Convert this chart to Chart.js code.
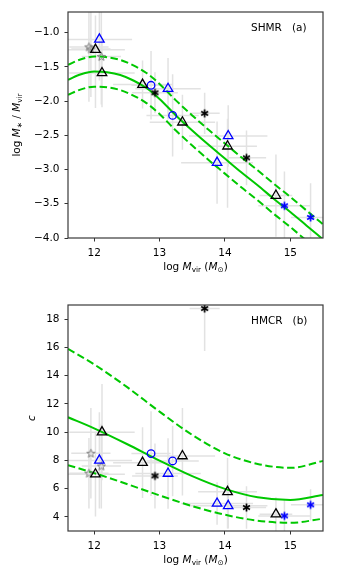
<!DOCTYPE html>
<html>
<head>
<meta charset="utf-8">
<script src="https://cdn.jsdelivr.net/npm/chart.js@4.4.0/dist/chart.umd.min.js"></script>
<style>
  body { margin: 0; background: #fff; }
  canvas { display: block; }
</style>
</head>
<body>
<canvas id="shmr" width="340" height="289"></canvas>
<canvas id="hmcr" width="340" height="289"></canvas>
<script>
// ---- data ----
const massTicks = [12, 13, 14, 15];
const shmrTicks = [-4.0, -3.5, -3.0, -2.5, -2.0, -1.5, -1.0];
const concTicks = [4, 6, 8, 10, 12, 14, 16, 18];

// black open triangles
const blackTriMass = [12.02, 12.12, 12.74, 13.35, 14.04, 14.78];
const blackTriShmr = [-1.25, -1.59, -1.76, -2.31, -2.66, -3.38];
const blackTriConc = [7.02, 10.0, 7.84, 8.31, 5.77, 4.19];
const blackTriMassErr = [0.45, 0.5, 0.45, 0.5, 0.45, 0.25];
const blackTriShmrErr = [[0.85, 0.5], [0.5, 0.5], [0.35, 0.35], [0.4, 0.4], [0.9, 0.4], [0.6, 0.6]];
const blackTriConcErr = [[3.0, 3.0], [3.4, 3.4], [2.5, 2.5], [2.8, 3.4], [2.6, 2.4], [1.2, 1.2]];

// blue open triangles
const blueTriMass = [12.08, 13.13, 13.88, 14.05];
const blueTriShmr = [-1.10, -1.82, -2.90, -2.51];
const blueTriConc = [8.0, 7.07, 4.95, 4.78];
const blueTriMassErr = [0.5, 0.5, 0.55, 0.6];
const blueTriShmrErr = [[0.6, 0.6], [0.45, 0.45], [0.6, 0.6], [0.45, 0.45]];
const blueTriConcErr = [[3.4, 3.4], [2.5, 2.5], [1.5, 1.5], [1.6, 1.6]];

// blue open circles
const blueCircMass = [12.87, 13.20];
const blueCircShmr = [-1.77, -2.21];
const blueCircConc = [8.48, 7.96];
const blueCircMassErr = [0.3, 0.4];
const blueCircShmrErr = [[0.5, 0.5], [0.6, 0.6]];
const blueCircConcErr = [[3.0, 3.0], [2.5, 2.5]];

// black asterisks
const blackStarMass = [12.93, 13.69, 14.33];
const blackStarShmr = [-1.88, -2.18, -2.83];
const blackStarConc = [6.9, 18.75, 4.66];
const blackStarMassErr = [0.35, 0.23, 0.3];
const blackStarShmrErr = [[0.3, 0.3], [0.3, 0.3], [0.4, 0.4]];
const blackStarConcErr = [[2.3, 2.3], [3.0, 0.3], [1.5, 1.5]];

// blue asterisks
const blueStarMass = [14.91, 15.31];
const blueStarShmr = [-3.53, -3.70];
const blueStarConc = [4.07, 4.85];
const blueStarMassErr = [0.4, 0.3];
const blueStarShmrErr = [[0.5, 0.5], [0.5, 0.5]];
const blueStarConcErr = [[1.2, 1.2], [1.1, 1.1]];

// grey open stars
const greyStarMass = [11.92, 11.95, 12.11];
const greyStarShmr = [-1.21, -1.24, -1.35];
const greyStarConc = [7.09, 8.50, 7.60];
const greyStarMassErr = [0.3, 0.3, 0.3];
const greyStarShmrErr = [[0.8, 0.8], [0.7, 0.7], [0.7, 0.7]];
const greyStarConcErr = [[2.5, 2.5], [3.2, 3.2], [3.0, 3.0]];

// model relations (median and scatter band)
const shmrCurveMass = [11.6, 11.8, 12.0, 12.2, 12.4, 12.6, 12.8, 13.0, 13.25, 13.5, 13.75, 14.0, 14.25, 14.5, 14.75, 15.0, 15.25, 15.5];
const shmrMedian = [-1.69, -1.61, -1.57, -1.58, -1.62, -1.70, -1.81, -1.97, -2.21, -2.43, -2.64, -2.84, -3.04, -3.23, -3.43, -3.62, -3.82, -4.02];
const shmrUpper  = [-1.47, -1.39, -1.35, -1.36, -1.40, -1.48, -1.59, -1.75, -1.99, -2.21, -2.42, -2.62, -2.82, -3.01, -3.21, -3.40, -3.60, -3.80];
const shmrLower  = [-1.91, -1.83, -1.79, -1.80, -1.84, -1.92, -2.03, -2.19, -2.43, -2.65, -2.86, -3.06, -3.26, -3.45, -3.65, -3.84, -4.04, -4.24];

const concCurveMass = [11.6, 12.0, 12.5, 13.0, 13.5, 14.0, 14.5, 15.0, 15.5];
const concMedian = [11.05, 10.27, 9.16, 7.98, 6.88, 5.98, 5.39, 5.20, 5.55];
const concUpper  = [15.9, 14.8, 13.2, 11.45, 9.8, 8.5, 7.75, 7.47, 7.96];
const concLower  = [7.66, 7.1, 6.33, 5.52, 4.76, 4.15, 3.73, 3.58, 3.87];

// ---- styling ----
const GREEN = '#00c800';
const FONT = '"DejaVu Sans"';
const FS = 10.5;

function asterisk(color) {
  const c = document.createElement('canvas');
  c.width = 11; c.height = 11;
  const g = c.getContext('2d');
  g.strokeStyle = color;
  g.lineWidth = 1.7;
  for (const a of [90, 30, 150]) {
    const r = a * Math.PI / 180;
    g.beginPath();
    g.moveTo(5.5 + 4 * Math.cos(r), 5.5 - 4 * Math.sin(r));
    g.lineTo(5.5 - 4 * Math.cos(r), 5.5 + 4 * Math.sin(r));
    g.stroke();
  }
  return c;
}

function openStar(color) {
  const c = document.createElement('canvas');
  c.width = 11; c.height = 11;
  const g = c.getContext('2d');
  g.strokeStyle = color;
  g.lineWidth = 1;
  g.beginPath();
  for (let i = 0; i < 10; i++) {
    const r = i % 2 ? 1.8 : 4.4;
    const a = -Math.PI / 2 + i * Math.PI / 5;
    const px = 5.5 + r * Math.cos(a), py = 5.8 + r * Math.sin(a);
    if (i === 0) g.moveTo(px, py); else g.lineTo(px, py);
  }
  g.closePath();
  g.stroke();
  return c;
}

const markers = {
  blackTri: { pointStyle: 'triangle', pointRadius: 5.5, borderColor: '#000', borderWidth: 1.3 },
  blueTri: { pointStyle: 'triangle', pointRadius: 5.5, borderColor: '#0000ff', borderWidth: 1.3 },
  blueCirc: { pointStyle: 'circle', pointRadius: 3.8, borderColor: '#0000ff', borderWidth: 1.3 },
  blackStar: { pointStyle: asterisk('#000'), pointRadius: 5 },
  blueStar: { pointStyle: asterisk('#0000ff'), pointRadius: 5 },
  greyStar: { pointStyle: openStar('#808080'), pointRadius: 5 }
};

function pts(xs, ys) { return xs.map((x, i) => ({ x: x, y: ys[i] })); }

function scatterSet(xs, ys, m) {
  return Object.assign({
    type: 'scatter',
    data: pts(xs, ys),
    backgroundColor: 'rgba(0,0,0,0)',
    pointHoverRadius: m.pointRadius
  }, m);
}

function curveSet(xs, ys, dashed) {
  return {
    type: 'scatter',
    showLine: true,
    data: pts(xs, ys),
    borderColor: GREEN,
    borderWidth: 2,
    borderDash: dashed ? [7.5, 3.5] : [],
    pointRadius: 0,
    cubicInterpolationMode: 'monotone',
    fill: false
  };
}

function drawRich(ctx, parts, x, y) {
  const fontOf = s => s === 'i' ? `italic ${FS}px ${FONT}` : s === 's' ? `${FS * 0.7}px ${FONT}` : `${FS}px ${FONT}`;
  let w = 0;
  for (const [t, s] of parts) { ctx.font = fontOf(s); w += ctx.measureText(t).width; }
  let cx = x - w / 2;
  ctx.textBaseline = 'middle';
  ctx.textAlign = 'left';
  for (const [t, s] of parts) {
    ctx.font = fontOf(s);
    ctx.fillText(t, cx, y + (s === 's' ? 2.6 : 0));
    cx += ctx.measureText(t).width;
  }
}

const xLabelParts = [['log ', 'n'], ['M', 'i'], ['vir', 's'], [' (', 'n'], ['M', 'i'], ['\u2299', 's'], [')', 'n']];

function decor(groups, yLabelParts, yLabelX, note) {
  return {
    id: 'decor',
    beforeDatasetsDraw(chart) {
      const { ctx, chartArea: a, scales: { x, y } } = chart;
      ctx.save();
      ctx.beginPath();
      ctx.rect(a.left, a.top, a.right - a.left, a.bottom - a.top);
      ctx.clip();
      ctx.strokeStyle = '#e2e2e2';
      ctx.lineWidth = 1.5;
      for (const g of groups) {
        g.xs.forEach((m, i) => {
          const v = g.ys[i];
          const px = x.getPixelForValue(m), py = y.getPixelForValue(v);
          ctx.beginPath();
          ctx.moveTo(x.getPixelForValue(m - g.xe[i]), py);
          ctx.lineTo(x.getPixelForValue(m + g.xe[i]), py);
          ctx.moveTo(px, y.getPixelForValue(v - g.ye[i][0]));
          ctx.lineTo(px, y.getPixelForValue(v + g.ye[i][1]));
          ctx.stroke();
        });
      }
      ctx.restore();
    },
    afterDraw(chart) {
      const { ctx, chartArea: a } = chart;
      ctx.save();
      ctx.strokeStyle = '#3a3a3a';
      ctx.lineWidth = 1.2;
      ctx.strokeRect(a.left, a.top, a.right - a.left, a.bottom - a.top);
      ctx.fillStyle = '#000';
      drawRich(ctx, xLabelParts, (a.left + a.right) / 2, a.bottom + 29);
      ctx.font = `${FS}px ${FONT}`;
      ctx.textAlign = 'left';
      ctx.textBaseline = 'middle';
      ctx.fillText(note, a.right - 72, a.top + 16.5);
      ctx.translate(yLabelX, (a.top + a.bottom) / 2);
      ctx.rotate(-Math.PI / 2);
      drawRich(ctx, yLabelParts, 0, 0);
      ctx.restore();
    }
  };
}

function axisOpts(min, max, tickVals, fmt, fit) {
  return {
    type: 'linear',
    min: min,
    max: max,
    afterBuildTicks: s => { s.ticks = tickVals.map(v => ({ value: v })); },
    afterFit: fit,
    ticks: { callback: fmt, color: '#000', font: { family: 'DejaVu Sans', size: FS }, padding: 5, autoSkip: false, maxRotation: 0 },
    grid: { display: true, drawOnChartArea: false, drawTicks: true, tickLength: 3.5, color: '#333', lineWidth: 1 },
    border: { display: false }
  };
}

function panel(id, datasets, yMin, yMax, yTicks, yFmt, topPad, xAxisH, plugin) {
  return new Chart(document.getElementById(id), {
    type: 'scatter',
    data: { datasets: datasets },
    options: {
      responsive: false,
      animation: false,
      events: [],
      layout: { padding: { top: topPad, right: 17, left: 0, bottom: 0 } },
      plugins: { legend: { display: false }, tooltip: { enabled: false } },
      scales: {
        x: axisOpts(11.6, 15.5, massTicks, v => String(v), s => { s.height = xAxisH; }),
        y: axisOpts(yMin, yMax, yTicks, yFmt, s => { s.width = 68; })
      }
    },
    plugins: [plugin]
  });
}

// panel (a): stellar-to-halo mass ratio
panel('shmr', [
  scatterSet(blackTriMass, blackTriShmr, markers.blackTri),
  scatterSet(blueTriMass, blueTriShmr, markers.blueTri),
  scatterSet(blueCircMass, blueCircShmr, markers.blueCirc),
  scatterSet(blackStarMass, blackStarShmr, markers.blackStar),
  scatterSet(blueStarMass, blueStarShmr, markers.blueStar),
  scatterSet(greyStarMass, greyStarShmr, markers.greyStar),
  curveSet(shmrCurveMass, shmrMedian, false),
  curveSet(shmrCurveMass, shmrUpper, true),
  curveSet(shmrCurveMass, shmrLower, true)
], -4.0, -0.7, shmrTicks,
  v => (v < 0 ? '\u2212' : '') + Math.abs(v).toFixed(1),
  12, 51,
  decor([
    { xs: blackTriMass, ys: blackTriShmr, xe: blackTriMassErr, ye: blackTriShmrErr },
    { xs: blueTriMass, ys: blueTriShmr, xe: blueTriMassErr, ye: blueTriShmrErr },
    { xs: blueCircMass, ys: blueCircShmr, xe: blueCircMassErr, ye: blueCircShmrErr },
    { xs: blackStarMass, ys: blackStarShmr, xe: blackStarMassErr, ye: blackStarShmrErr },
    { xs: blueStarMass, ys: blueStarShmr, xe: blueStarMassErr, ye: blueStarShmrErr },
    { xs: greyStarMass, ys: greyStarShmr, xe: greyStarMassErr, ye: greyStarShmrErr }
  ], [['log ', 'n'], ['M', 'i'], ['\u2217', 's'], [' / ', 'n'], ['M', 'i'], ['vir', 's']], 17, 'SHMR   (a)')
);

// panel (b): halo mass-concentration relation
panel('hmcr', [
  scatterSet(blackTriMass, blackTriConc, markers.blackTri),
  scatterSet(blueTriMass, blueTriConc, markers.blueTri),
  scatterSet(blueCircMass, blueCircConc, markers.blueCirc),
  scatterSet(blackStarMass, blackStarConc, markers.blackStar),
  scatterSet(blueStarMass, blueStarConc, markers.blueStar),
  scatterSet(greyStarMass, greyStarConc, markers.greyStar),
  curveSet(concCurveMass, concMedian, false),
  curveSet(concCurveMass, concUpper, true),
  curveSet(concCurveMass, concLower, true)
], 3, 19, concTicks,
  v => String(v),
  16, 47,
  decor([
    { xs: blackTriMass, ys: blackTriConc, xe: blackTriMassErr, ye: blackTriConcErr },
    { xs: blueTriMass, ys: blueTriConc, xe: blueTriMassErr, ye: blueTriConcErr },
    { xs: blueCircMass, ys: blueCircConc, xe: blueCircMassErr, ye: blueCircConcErr },
    { xs: blackStarMass, ys: blackStarConc, xe: blackStarMassErr, ye: blackStarConcErr },
    { xs: blueStarMass, ys: blueStarConc, xe: blueStarMassErr, ye: blueStarConcErr },
    { xs: greyStarMass, ys: greyStarConc, xe: greyStarMassErr, ye: greyStarConcErr }
  ], [['c', 'i']], 32, 'HMCR   (b)')
);
</script>
</body>
</html>
